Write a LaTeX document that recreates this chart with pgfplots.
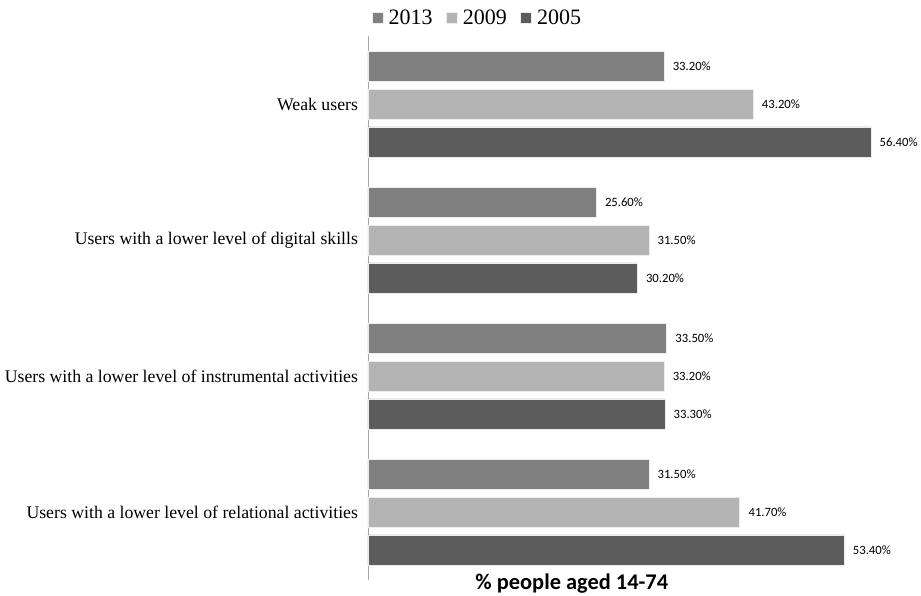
\documentclass[border=0pt]{standalone}
\usepackage{pgfplots}
\pgfplotsset{compat=1.18}
\usepackage{fontspec}
\setmainfont{Liberation Serif}
\newfontfamily\calibri{Carlito}
\definecolor{c2013}{HTML}{808080}
\definecolor{c2009}{HTML}{B4B4B4}
\definecolor{c2005}{HTML}{5C5C5C}
\begin{document}
\begin{tikzpicture}
\useasboundingbox (-276pt,-12pt) rectangle (414.75pt,435pt);
\begin{axis}[
  scale only axis,
  width=401.25pt, height=408pt,
  xmin=0, xmax=60,
  ymin=-0.5, ymax=3.5,
  /pgf/number format/assume math mode=true,
  axis x line*=bottom,
  x axis line style={draw=none},
  xtick=\empty,
  axis y line*=left,
  y axis line style={draw=gray!70, line width=0.6pt},
  ytick={0,1,2,3},
  yticklabels={Users with a lower level of relational activities,
               Users with a lower level of instrumental activities,
               Users with a lower level of digital skills,
               Weak users},
  major tick length=0pt,
  yticklabel style={font=\fontsize{13.3}{15}\selectfont, xshift=-4pt},
  xbar,
  bar width=0.22,
  nodes near coords={\pgfmathprintnumber[fixed,fixed zerofill,precision=2]{\pgfplotspointmeta}\%},
  nodes near coords style={anchor=west, font=\calibri\fontsize{9.5}{11}\selectfont, xshift=3pt, text=black},
  clip=false,
  xlabel={\calibri\bfseries\fontsize{16.8}{19}\selectfont \% people aged 14-74},
  xlabel style={at={(rel axis cs:0.381,0)}, anchor=center, yshift=-3pt},
  legend style={at={(rel axis cs:0.205,1)}, anchor=center, yshift=13.5pt, draw=none, fill=none,
    font=\fontsize{16.5}{18}\selectfont, legend columns=3,
    /tikz/every odd column/.append style={column sep=2pt},
    /tikz/every even column/.append style={column sep=8pt}},
  legend cell align=left,
  legend image code/.code={\fill[#1] (0pt,-4pt) rectangle (8.25pt,4.25pt);},
]
\addplot[fill=c2013, draw=white!85!gray, line width=0.5pt, bar shift=0.279] coordinates {(31.5,0) (33.5,1) (25.6,2) (33.2,3)};
\addlegendentry{2013}
\addplot[fill=c2009, draw=white!85!gray, line width=0.5pt, bar shift=0] coordinates {(41.7,0) (33.2,1) (31.5,2) (43.2,3)};
\addlegendentry{2009}
\addplot[fill=c2005, draw=white!85!gray, line width=0.5pt, bar shift=-0.279] coordinates {(53.4,0) (33.3,1) (30.2,2) (56.4,3)};
\addlegendentry{2005}
\end{axis}
\end{tikzpicture}
\end{document}
